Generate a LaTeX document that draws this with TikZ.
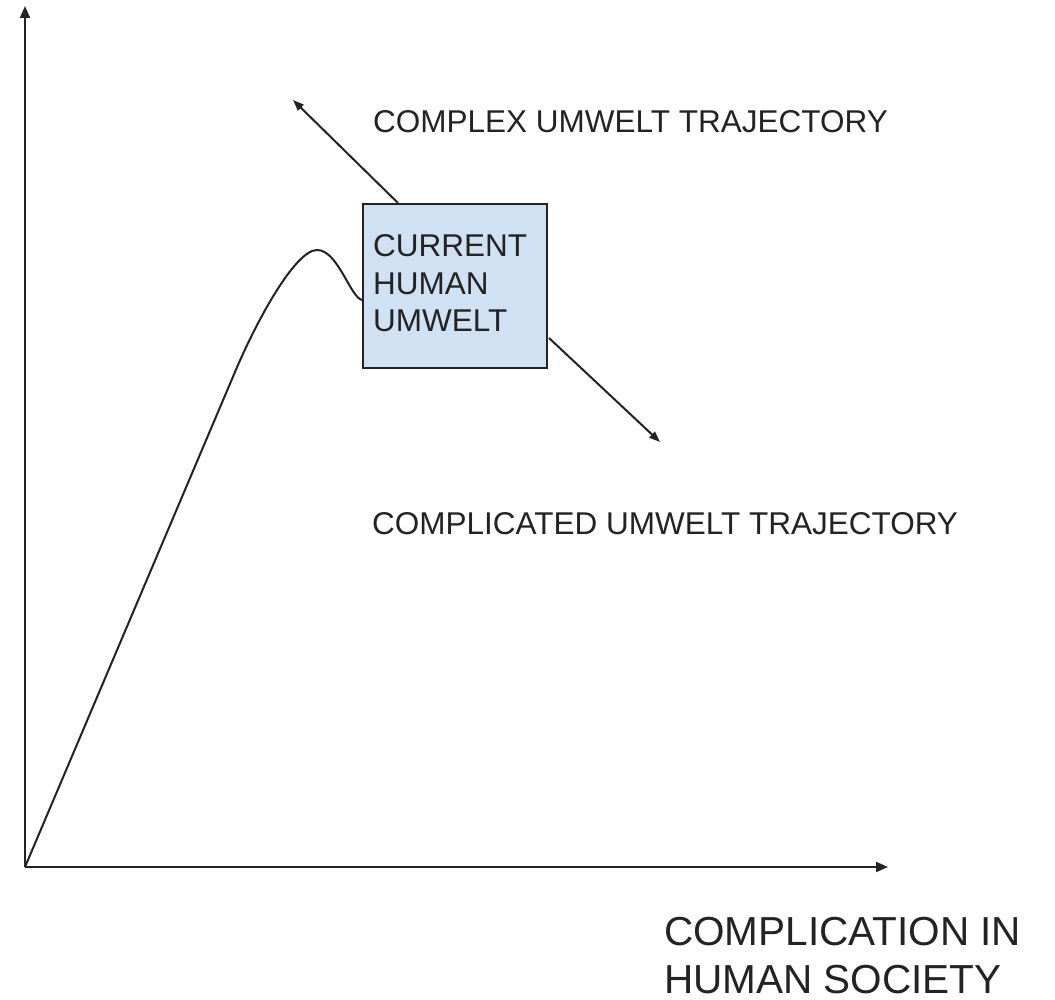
\documentclass[tikz,border=0pt]{standalone}
\usepackage{fontspec}
\setmainfont{Liberation Sans}
\usetikzlibrary{arrows.meta,calc}
\definecolor{boxfill}{RGB}{207,225,242}
\definecolor{ink}{RGB}{35,35,35}
\tikzset{
  axisline/.style={draw=ink, line width=2pt, -{Triangle[length=12pt,width=10pt]}},
  trajline/.style={draw=ink, line width=2pt, -{Triangle[length=11pt,width=8pt]}},
  curveline/.style={draw=ink, line width=2pt},
  umweltbox/.style={draw=ink, line width=2pt, fill=boxfill, rectangle,
    minimum width=184pt, minimum height=164pt, inner sep=0pt, anchor=north west},
  lbl/.style={font=\fontsize{31.5}{37.5}\selectfont, text=ink, inner sep=0pt, anchor=base west, align=left},
  biglbl/.style={font=\fontsize{40.5}{48}\selectfont, text=ink, inner sep=0pt, anchor=base west, align=left},
}
\begin{document}
\begin{tikzpicture}[x=1pt,y=-1pt]
\useasboundingbox (0,0) rectangle (1055,1000);
\fill[white] (0,0) rectangle (1055,1000);
% axes
\coordinate (O) at (25,867);
\coordinate (ytip) at (25,6);
\coordinate (xtip) at (888,867);
\draw[axisline] (O) -- (ytip);
\draw[axisline] (O) -- (xtip);
% box
\node[umweltbox] (box) at (362,203) {};
\node[lbl] (boxtext) at (373,332) {CURRENT\\HUMAN\\UMWELT};
% curve
\coordinate (curveend) at ($(box.north west)+(0,97)$);
\draw[curveline] (O) -- (235,372) .. controls (256,322) and (295,250) .. (317,250)
  .. controls (338,250) and (350,297) .. (curveend);
% trajectories
\coordinate (upstart) at ($(box.north west)+(36,0)$);
\coordinate (uptip) at (293,100);
\coordinate (downstart) at ($(box.north east)+(1,135)$);
\coordinate (downtip) at (660,442);
\draw[trajline] (upstart) -- (uptip);
\draw[trajline] (downstart) -- (downtip);
% labels
\node[lbl] (complex) at (373,133) {COMPLEX UMWELT TRAJECTORY};
\node[lbl] (complicated) at (372,534) {COMPLICATED UMWELT TRAJECTORY};
\node[biglbl] (xlabel) at (664,993) {COMPLICATION IN\\HUMAN SOCIETY};
\end{tikzpicture}
\end{document}
